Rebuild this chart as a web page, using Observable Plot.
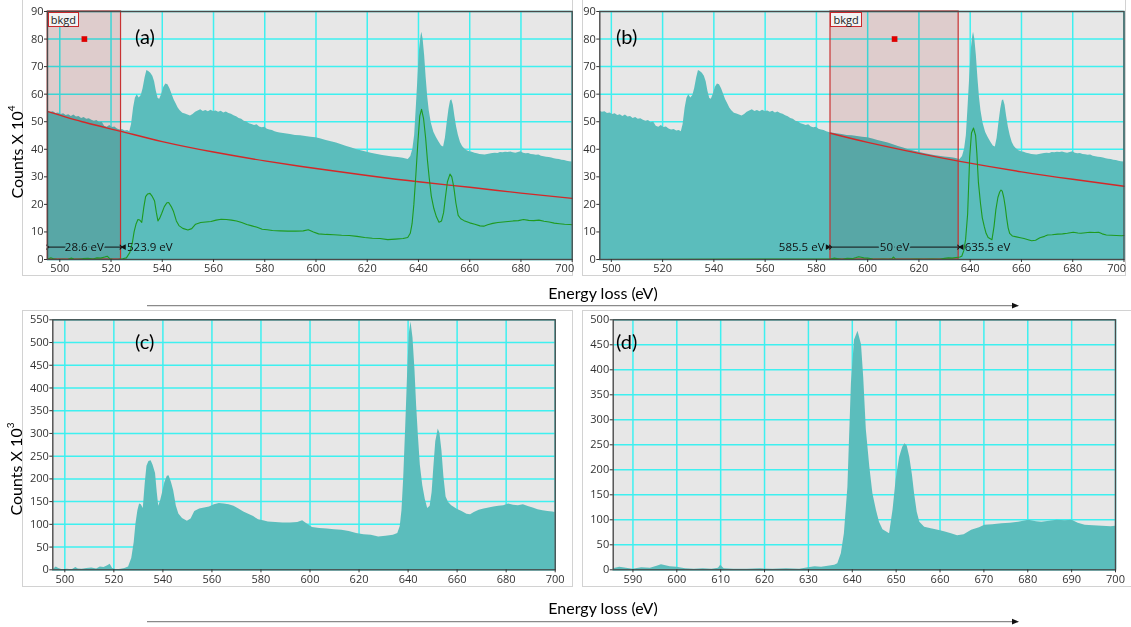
<!DOCTYPE html>
<html><head><meta charset="utf-8">
<script src="https://cdn.jsdelivr.net/npm/d3@7"></script>
<script src="https://cdn.jsdelivr.net/npm/@observablehq/plot@0.6"></script>
<style>
html,body{margin:0;padding:0;background:#fff;}
#root{position:relative;width:1131px;height:627px;overflow:hidden;font-family:"Open Sans",sans-serif;}
.box{position:absolute;border:1px solid #d2d2d2;box-sizing:border-box;}
.pane{position:absolute;}
.lbl{position:absolute;font-family:Lato,"Open Sans",sans-serif;color:#000;white-space:nowrap;line-height:1;}
.ylab{position:absolute;font-family:Lato,sans-serif;font-size:16px;transform:translate(-50%,-50%) rotate(-90deg);white-space:nowrap;color:#000;}
.ylab sup{font-size:10px;position:relative;top:-1px;}
.xlab{position:absolute;font-family:Lato,sans-serif;font-size:16px;transform:translate(-50%,-50%);white-space:nowrap;color:#000;}
.bk{position:absolute;font:11px "Open Sans",sans-serif;border:1px solid #c8282c;background:#f3f3f3;padding:0 2px;line-height:13px;color:#222;}
</style></head><body><div id="root"></div>
<script>
// ---------------- DATA ----------------
// x ticks / y ticks
const xTicksABC = [500, 520, 540, 560, 580, 600, 620, 640, 660, 680, 700];
const yTicksAB = [0, 10, 20, 30, 40, 50, 60, 70, 80, 90];
const yTicksC = [0, 50, 100, 150, 200, 250, 300, 350, 400, 450, 500, 550];
const xTicksD = [590, 600, 610, 620, 630, 640, 650, 660, 670, 680, 690, 700];
const yTicksD = [0, 50, 100, 150, 200, 250, 300, 350, 400, 450, 500];

// background-fit windows (eV)
const winA = [495.3, 523.9];
const winB = [585.5, 635.5];
const bkgdMarkerY = 80;
const annY = 4.5;

// raw spectrum, counts x 10^4  [energy eV, counts]
const rawSpectrum = [
[495.5,53.8],[496.5,53.4],[497.5,53.6],[498.5,53.0],[499.5,53.2],[500.5,52.6],[501.5,52.9],[502.5,52.3],[503.5,52.5],[504.5,51.9],
[505.5,52.4],[506.5,51.7],[507.5,51.9],[508.5,51.2],[509.5,51.5],[510.5,50.9],[511.5,51.1],[512.5,50.5],[513.5,50.2],[514.5,50.4],
[515.5,49.6],[516.5,49.9],[517.5,48.4],[518.5,48.0],[519.5,48.6],[520.5,47.9],[521.5,48.1],[522.5,47.4],[523.5,47.0],[524.5,47.2],
[525.5,46.6],[526.5,46.8],[527.3,46.4],[528,49],[528.8,55],[529.5,58.5],[530.2,59.8],[531,58.6],[531.8,59.5],[532.5,62],
[533.3,66],[534,68.6],[534.7,68.2],[535.5,67.6],[536.3,66.5],[537,64.5],[537.7,61],[538.4,58.4],[539,58.2],[539.8,60],
[540.6,62.5],[541.4,63.7],[542.2,63.4],[543,62],[543.8,60],[544.6,58],[545.4,56.5],[546.2,55],[547,54],[548,53.1],
[549,52.8],[550,52.4],[551,52.1],[552,52.6],[553,53.4],[554,53.9],[555,54.3],[556,53.7],[557,54.1],[558,53.6],
[559,54.2],[560,53.7],[561,53.9],[562,53.4],[563,53.8],[564,53.2],[565,53.5],[566,53.0],[567,52.7],[568,52.2],
[569,51.8],[570,51.2],[571,50.9],[572,50.2],[573,49.9],[574,49.3],[575,49.0],[576,48.6],[577,48.9],[578,48.1],
[579,47.8],[580,48.0],[581,47.3],[582,47.0],[583,46.8],[584,46.4],[585,46.1],[586,45.9],[588,45.6],[590,45.4],
[592,45.0],[594,44.9],[596,44.6],[598,44.4],[600,44.2],[602,43.7],[604,43.2],[606,42.7],[608,42.3],[610,41.6],
[612,41.0],[614,40.5],[616,39.8],[618,39.4],[620,38.9],[622,38.5],[624,38.1],[626,37.7],[628,37.5],[630,37.2],
[632,37.0],[634,36.7],[636,36.3],[637,37.4],[637.8,40],[638.5,45],[639.2,56],[639.8,66],[640.4,76],[641,81],
[641.3,82.5],[641.8,80],[642.4,74],[643,66],[643.6,59],[644.2,54],[645,49.5],[646,46.2],[647,44.3],[648,42.6],
[649,41.2],[649.8,40.8],[650.5,44],[651.2,49.5],[651.9,54.5],[652.5,57.5],[653,58],[653.6,56],[654.2,52],[654.9,48],
[655.6,45],[656.4,42.5],[657.2,41],[658,40.2],[659,39.5],[660,39.1],[661,38.9],[662,38.6],[663,38.4],[664,38.1],
[665,38.0],[666,37.9],[667,38.1],[668,38.3],[669,38.5],[670,38.6],[671,38.5],[672,38.8],[673,38.7],[674,38.9],
[675,38.8],[676,39.0],[677,38.7],[678,38.6],[679,38.8],[680,39.1],[681,38.6],[682,38.4],[683,38.5],[684,38.1],
[685,38.0],[686,37.8],[687,37.9],[688,37.5],[689,37.3],[690,37.1],[691,37.0],[692,36.8],[693,36.6],[694,36.4],
[695,36.3],[696,36.0],[697,35.9],[698,35.7],[699,35.5],[700,35.4]
];

// background fits, counts x 10^4
const bkgdFitA = [[495.3,53.7],[510,49.7],[523.9,46.5],[540,42.8],[560,39.0],[580,35.8],[600,33.0],[620,30.5],[640,28.2],[660,26.2],[680,24.1],[700,22.2]];
const bkgdFitB = [[585.5,45.8],[600,42.5],[620,38.5],[636,35.6],[660,31.8],[680,29.1],[700,26.6]];

// background-subtracted signal, window A, counts x 10^3  (panel c; green in a)
const signalA = [
[495.5,2],[496.5,6],[497.5,3],[499,0],[501,1],[503,0],[504.5,5],[505.5,2],[507,1],[509,3],
[511,4],[513,2],[514.5,6],[516,5],[517.5,9],[518.5,12],[519.5,3],[521,0],[523,1],[524.5,3],
[526,6],[527.3,25],[528.3,60],[529,100],[529.8,130],[530.5,145],[531.2,143],[532,135],[532.8,190],[533.5,228],
[534.3,238],[535.2,240],[536,230],[537,212],[537.7,170],[538.3,140],[539,150],[539.8,168],[540.8,192],[541.8,206],
[542.5,207],[543.5,192],[544.4,174],[545.5,140],[546.5,123],[548,113],[550,107],[551.5,112],[553,128],[555,134],
[557,136],[559,138],[561,143],[563,146],[565,145],[567,143],[569,140],[571,134],[573,127],[575,122],
[577,117],[579,110],[581,108],[583,105],[586,104],[589,103],[592,103],[595,104],[597,108],[599,100],
[601,93],[604,91],[607,90],[610,88],[613,87],[616,84],[619,80],[622,77],[625,76],[628,72],
[631,74],[634,76],[635.8,80],[636.8,95],[637.5,130],[638.2,200],[639,310],[639.8,430],[640.5,520],[641.2,545],
[642,510],[642.8,440],[643.5,360],[644.2,295],[645,230],[646,185],[647,155],[648,135],[649,140],[649.8,170],
[650.5,225],[651.3,282],[652.3,310],[653,300],[653.8,262],[654.6,205],[655.5,160],[656.5,148],[657.8,141],[660,133],
[662,128],[664,122],[665.5,121],[667,126],[669,131],[671,134],[673,136],[675,138],[677,140],[679,141],
[681,145],[683,142],[685,141],[687,143],[689,139],[691,136],[693,132],[695,130],[697,128],[699,127],[700,126]
];

// background-subtracted signal, window B, counts x 10^3  (panel d; green in b)
const signalB = [
[585.5,2],[587,5],[588.5,3],[590,1],[592,4],[594,3],[595.5,7],[596.5,10],[597.5,8],[598.5,6],
[600,5],[602,2],[604,1],[606,2],[608,1],[609.5,3],[610,9],[610.8,2],[613,1],[616,1],
[619,2],[622,1],[625,2],[628,1],[630,4],[631.5,6],[633,5],[634.5,7],[636,9],[636.7,12],
[637.5,32],[638.2,72],[639,165],[639.8,372],[640.5,459],[641.3,477],[642.1,450],[642.6,385],[643.2,280],[644,205],
[644.7,152],[645.5,119],[646.2,95],[647,80],[648.5,72],[649.3,120],[650,180],[650.8,225],[651.5,245],[652,252],
[652.5,248],[653.1,225],[653.7,190],[654.2,152],[654.8,115],[655.4,95],[656.5,85],[658,82],[659.6,79],[661,76],
[662.6,72],[664,68],[665.5,70],[667.2,79],[669,84],[670.2,89],[672,90],[674.1,92],[676,93],[677.9,95],
[680.2,99],[682,96],[683.2,95],[685,97],[686.7,99],[688.5,98],[690.1,99],[691.5,93],[693.1,89],[695,88],
[697,87],[699,86],[700,87]
];

// ---------------- STYLE ----------------
const TEAL = "#5bbdbc", BG = "#e7e7e7", GRID = "#3ef0f0", FRAME = "#4a4a4a";
const RED = "#d42828", GREEN = "#1f9a1f", REGION = "#f6e2e2", REGION_STROKE = "#c83232";
const HALO_REGION = "#58a9a8";

const root = document.getElementById("root");
function add(html){ root.insertAdjacentHTML("beforeend", html); }

// outer panel boxes
add(`<div class="box" style="left:22px;top:-2px;width:551px;height:278px"></div>`);
add(`<div class="box" style="left:582px;top:-2px;width:544px;height:278px"></div>`);
add(`<div class="box" style="left:22px;top:310px;width:551px;height:277px"></div>`);
add(`<div class="box" style="left:582px;top:310px;width:560px;height:277px"></div>`);

const pt = a => a.map(([e, v]) => ({e, v}));

function panel({left, top, width, height, mL, mR, mT, mB, xDomain, yDomain, xTicks, yTicks, marks, endLabel}) {
  const last = xTicks[xTicks.length - 1];
  const axisMarks = endLabel
    ? [
        Plot.axisX(xTicks, {tickSize: 3, tickPadding: 2, label: null, tickFormat: d => d === last ? "" : String(d)}),
        Plot.text([last], {x: d => d, frameAnchor: "bottom", lineAnchor: "top", dy: 5, dx: 2, textAnchor: "end", text: d => String(d), fill: "currentColor"})
      ]
    : [Plot.axisX(xTicks, {tickSize: 3, tickPadding: 2, label: null, tickFormat: d => String(d)})];
  const chart = Plot.plot({
    width, height, marginLeft: mL, marginRight: mR, marginTop: mT, marginBottom: mB,
    x: {domain: xDomain, label: null},
    y: {domain: yDomain, label: null},
    style: {background: "transparent", fontFamily: "'Open Sans', sans-serif", fontSize: "11px", color: "#333"},
    marks: [
      Plot.frame({fill: BG, stroke: null}),
      Plot.gridX(xTicks, {stroke: GRID, strokeOpacity: 1, strokeWidth: 1.5}),
      Plot.gridY(yTicks, {stroke: GRID, strokeOpacity: 1, strokeWidth: 1.5}),
      ...marks,
      Plot.frame({stroke: FRAME, strokeWidth: 1.4}),
      ...axisMarks,
      Plot.axisY(yTicks, {tickSize: 3, tickPadding: 1, label: null, tickFormat: d => String(d)})
    ]
  });
  const div = document.createElement("div");
  div.className = "pane";
  div.style.cssText = `left:${left}px;top:${top}px;width:${width}px;height:${height}px;`;
  div.appendChild(chart);
  root.appendChild(div);
  return chart;
}

function windowMarks(win, fit, green) {
  const mid = (win[0] + win[1]) / 2;
  return [
    Plot.areaY(pt(rawSpectrum), {x: "e", y: "v", fill: TEAL}),
    Plot.rect([win], {x1: d => d[0], x2: d => d[1], y1: 0, y2: 90, fill: REGION, mixBlendMode: "multiply"}),
    Plot.rect([win], {x1: d => d[0], x2: d => d[1], y1: 0, y2: 90, fill: "none", stroke: REGION_STROKE, strokeWidth: 1.2}),
    Plot.line(pt(fit), {x: "e", y: "v", stroke: RED, strokeWidth: 1.4, curve: "natural"}),
    Plot.line(green, {x: "e", y: "v", stroke: GREEN, strokeWidth: 1.1}),
    Plot.dot([mid], {x: d => d, y: bkgdMarkerY, symbol: "square", r: 3.2, fill: "#dd0000", stroke: null}),
    Plot.link([win], {x1: d => d[0], x2: d => d[1], y1: annY, y2: annY, stroke: "#111", strokeWidth: 1, markerStart: "arrow", markerEnd: "arrow"}),
    Plot.text([win], {x: d => (d[0] + d[1]) / 2, y: annY, text: d => `${+(d[1] - d[0]).toFixed(1)} eV`, fill: "#111", stroke: HALO_REGION, strokeWidth: 4, paintOrder: "stroke", fontSize: 11.5}),
  ];
}

// ---------- panel (a) ----------
const chartA = panel({
  left: 0, top: 0, width: 574, height: 280, mL: 47, mR: 2.3, mT: 11, mB: 21,
  xDomain: [495.2, 700], yDomain: [0, 90], xTicks: xTicksABC, yTicks: yTicksAB, endLabel: true,
  marks: [
    ...windowMarks(winA, bkgdFitA, pt(signalA.map(([e, v]) => [e, v / 10]))),
    Plot.dot([winA[1]], {x: d => d, y: annY, dx: 3, symbol: "triangle", rotate: -90, r: 2.2, fill: "#111", stroke: null}),
    Plot.text([winA[1]], {x: d => d, y: annY, dx: 6, text: d => `${d.toFixed(1)} eV`, textAnchor: "start", fill: "#111", fontSize: 11.5})
  ]
});

// ---------- panel (b) ----------
const greenB = [[495.5, 0], ...signalB.map(([e, v]) => [e, v / 10])];
const chartB = panel({
  left: 581, top: 0, width: 545, height: 280, mL: 18.3, mR: 2.5, mT: 11, mB: 21,
  xDomain: [495.5, 700], yDomain: [0, 90], xTicks: xTicksABC, yTicks: yTicksAB, endLabel: true,
  marks: [
    ...windowMarks(winB, bkgdFitB, pt(greenB)),
    Plot.dot([winB[0]], {x: d => d, y: annY, dx: -3, symbol: "triangle", rotate: 90, r: 2.2, fill: "#111", stroke: null}),
    Plot.text([winB[0]], {x: d => d, y: annY, dx: -6, text: d => `${d.toFixed(1)} eV`, textAnchor: "end", fill: "#111", fontSize: 11.5}),
    Plot.dot([winB[1]], {x: d => d, y: annY, dx: 3, symbol: "triangle", rotate: -90, r: 2.2, fill: "#111", stroke: null}),
    Plot.text([winB[1]], {x: d => d, y: annY, dx: 6, text: d => `${d.toFixed(1)} eV`, textAnchor: "start", fill: "#111", fontSize: 11.5})
  ]
});

// ---------- panel (c) ----------
const chartC = panel({
  left: 23, top: 311, width: 550, height: 276, mL: 29.3, mR: 18.3, mT: 8.3, mB: 17.7,
  xDomain: [495.1, 700], yDomain: [0, 550], xTicks: xTicksABC, yTicks: yTicksC,
  marks: [Plot.areaY(pt(signalA), {x: "e", y: "v", fill: TEAL})]
});

// ---------- panel (d) ----------
const chartD = panel({
  left: 583, top: 311, width: 548, height: 276, mL: 29.7, mR: 16, mT: 8.3, mB: 17.7,
  xDomain: [585.5, 700], yDomain: [0, 500], xTicks: xTicksD, yTicks: yTicksD,
  marks: [Plot.areaY(pt(signalB), {x: "e", y: "v", fill: TEAL})]
});

// bkgd labels positioned through the plot scales
function bkgdLabel(chart, left, top, x) {
  const px = chart.scale("x").apply(x);
  add(`<div class="bk" style="left:${left + px + 0.5}px;top:${top + 11.5}px">bkgd</div>`);
}
bkgdLabel(chartA, 0, 0, winA[0]);
bkgdLabel(chartB, 581, 0, winB[0]);

// panel letters
add(`<div class="lbl" style="left:135px;top:26px;font-size:20px">(a)</div>`);
add(`<div class="lbl" style="left:616px;top:26px;font-size:20px">(b)</div>`);
add(`<div class="lbl" style="left:135px;top:331px;font-size:20px">(c)</div>`);
add(`<div class="lbl" style="left:616px;top:331px;font-size:20px">(d)</div>`);

// axis titles
add(`<div class="ylab" style="left:16px;top:152px">Counts X 10<sup>4</sup></div>`);
add(`<div class="ylab" style="left:15px;top:469px">Counts X 10<sup>3</sup></div>`);
add(`<div class="xlab" style="left:603px;top:292px">Energy loss (eV)</div>`);
add(`<div class="xlab" style="left:603px;top:607px">Energy loss (eV)</div>`);

// long arrows under the titles
add(`<svg style="position:absolute;left:0;top:0" width="1131" height="627">
  <g stroke="#8a8a8a" stroke-width="1.3"><line x1="147" y1="305.7" x2="1013" y2="305.7"/><line x1="147" y1="621.7" x2="1013" y2="621.7"/></g>
  <g fill="#111"><path d="M1012,302.8 L1019,305.7 L1012,308.6Z"/><path d="M1012,618.8 L1019,621.7 L1012,624.6Z"/></g>
</svg>`);
</script></body></html>
